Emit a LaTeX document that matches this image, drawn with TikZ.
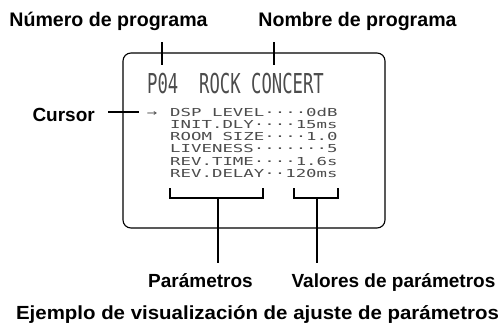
\documentclass[tikz,border=0pt]{standalone}
\usepackage{fontspec}
\setmainfont{Liberation Sans}
\newfontfamily\captionfont[FakeStretch=1.076]{Liberation Sans}
\newfontfamily\lcdfont[FakeStretch=1.58]{DejaVu Sans Mono}
\newfontfamily\lcdtitlefont[FakeStretch=0.63]{DejaVu Sans Mono}
\tikzset{
  callout/.style={font=\fontsize{19}{22}\selectfont\bfseries, inner sep=0pt, anchor=base},
  lcdline/.style={font=\lcdfont\fontsize{11}{12}\selectfont, text=black!70, inner sep=0pt, anchor=base west},
  lcdtitle/.style={font=\lcdtitlefont\fontsize{27.4}{30}\selectfont, text=black!70, inner sep=0pt, anchor=base west},
  pointer/.style={line width=1.7pt},
}
\begin{document}
\begin{tikzpicture}[x=1pt,y=-1pt]
\useasboundingbox (0,0) rectangle (503,324);
% display frame
\draw[line width=1.1pt, rounded corners=8pt] (123,53) rectangle (385,228);
% display contents
\node[lcdtitle] (title) at (147,93) {P04\ \ ROCK\ CONCERT};
\node[lcdline, anchor=base] (arrow) at (152,116) {→};
\node[lcdline] (dsp) at (170,116) {DSP\ LEVEL····0dB};
\node[lcdline] (dly) at (170,128.3) {INIT.DLY····15ms};
\node[lcdline] (room) at (170,140.6) {ROOM\ SIZE····1.0};
\node[lcdline] (live) at (170,152.9) {LIVENESS·······5};
\node[lcdline] (rtime) at (170,165.2) {REV.TIME····1.6s};
\node[lcdline] (rdelay) at (170,177.5) {REV.DELAY··120ms};
% labels
\node[callout, font=\fontsize{19.6}{22}\selectfont\bfseries] (num) at (108.5,27) {Número de programa};
\node[callout, font=\fontsize{19.6}{22}\selectfont\bfseries] (name) at (357.5,27) {Nombre de programa};
\node[callout, anchor=base east] (cur) at (95,121) {Cursor};
\node[callout] (par) at (200.5,287) {Parámetros};
\node[callout] (val) at (393.5,287) {Valores de parámetros};
\node[callout, font=\captionfont\fontsize{19}{22}\selectfont\bfseries] (caption) at (257.5,319) {Ejemplo de visualización de ajuste de parámetros};
% pointers
\coordinate (numtop) at (162,42);
\coordinate (numend) at (162,65);
\coordinate (nametop) at (274,42);
\coordinate (nameend) at (274,65);
\coordinate (curleft) at (108,112);
\coordinate (curright) at (139,112);
\draw[pointer] (numtop) -- (numend);
\draw[pointer] (nametop) -- (nameend);
\draw[pointer] (curleft) -- (curright);
% brackets
\coordinate (parmid) at (218,198);
\coordinate (parend) at (218,263);
\coordinate (valmid) at (317,198);
\coordinate (valend) at (317,263);
\draw[pointer] (170,188) -- (170,198) -- (263,198) -- (263,188);
\draw[pointer] (294,188) -- (294,198) -- (338,198) -- (338,188);
\draw[pointer] (parmid) -- (parend);
\draw[pointer] (valmid) -- (valend);
\end{tikzpicture}
\end{document}
